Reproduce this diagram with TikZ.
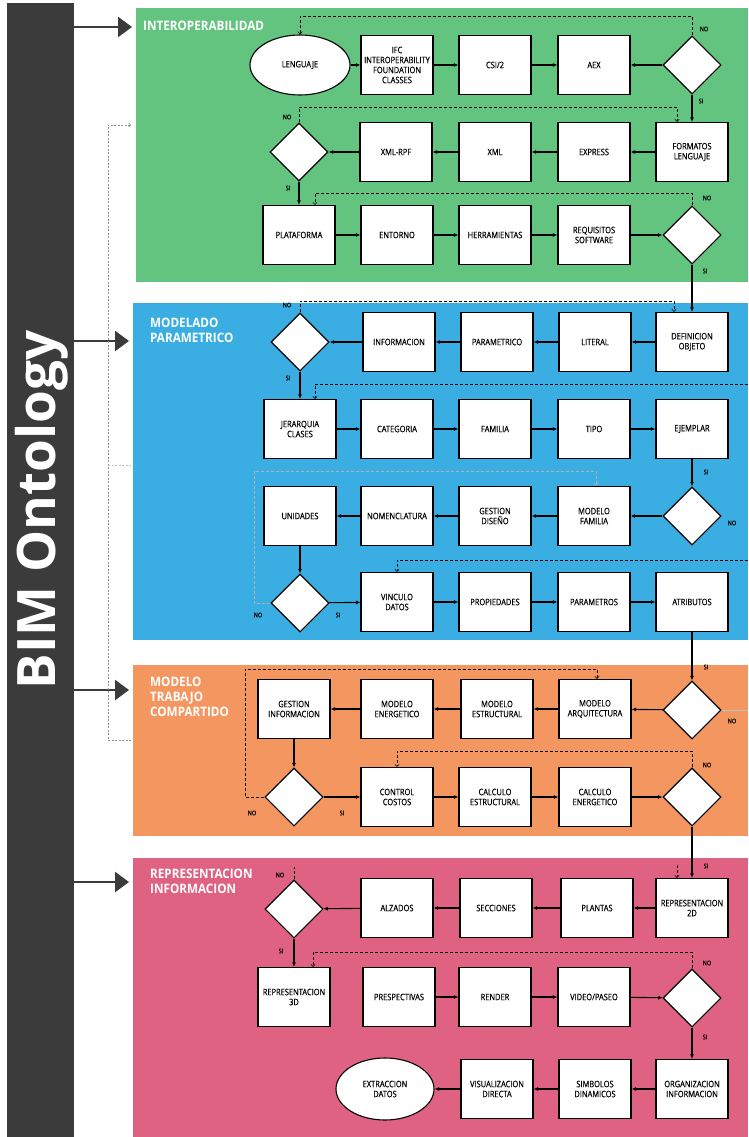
\documentclass[tikz,border=0pt]{standalone}
\usepackage{fontspec}
\setmainfont{Open Sans}
\newfontfamily\narrowfont{Open Sans}[FakeStretch=0.84, FakeBold=0.4]
\newfontfamily\titlefont{Open Sans}[FakeStretch=0.9]
\usetikzlibrary{positioning,arrows.meta,shapes.geometric}

\definecolor{barcol}{HTML}{3B3B3B}
\definecolor{interop}{HTML}{62C47F}
\definecolor{param}{HTML}{3AAEE2}
\definecolor{shared}{HTML}{F39660}
\definecolor{present}{HTML}{E06282}

\tikzset{
  panel/.style={anchor=north west, inner sep=0pt, outer sep=0pt},
  stage/.style={draw, line width=1.1pt, fill=white, minimum width=72pt, minimum height=59pt,
    inner sep=1pt, align=center, font=\narrowfont\fontsize{8.9}{10}\selectfont},
  choice/.style={diamond, draw, fill=white, line width=1.1pt, minimum width=58pt, minimum height=58pt, inner sep=0pt},
  endpoint/.style={ellipse, draw, fill=white, line width=1.1pt, minimum width=100pt, minimum height=60pt,
    align=center, font=\narrowfont\fontsize{8.9}{10}\selectfont},
  flow/.style={line width=1.1pt, -{Latex[length=4.5pt,width=4pt]}},
  loopback/.style={line width=0.5pt, dash pattern=on 3pt off 2pt, -{Straight Barb[length=2.5pt,width=4.5pt]}},
  faintloop/.style={loopback, draw=black!30},
  sideloop/.style={line width=0.5pt, draw=black!45, dash pattern=on 2pt off 1.5pt},
  tag/.style={inner sep=0pt, font=\narrowfont\fontsize{6.5}{7}\selectfont},
  heading/.style={anchor=north west, align=left, inner sep=0pt, text=white,
    font=\titlefont\bfseries\fontsize{13}{15}\selectfont},
  feedarrow/.style={draw=barcol, line width=2.4pt, -{Triangle[length=14pt,width=20pt]}}
}

\begin{document}
\begin{tikzpicture}[x=1pt, y=-1pt]
\useasboundingbox (0,0) rectangle (748,1137);

% side bar
\node[panel, fill=barcol, minimum width=67pt, minimum height=1134pt] (bar) at (7,3) {};
\node[rotate=90, text=white, font=\bfseries\fontsize{53}{53}\selectfont] (barlabel) at (42,510) {BIM Ontology};

% colour bands
\node[panel, fill=interop, minimum width=612pt, minimum height=274pt] (interopband) at (136,8) {};
\node[panel, fill=param, minimum width=615pt, minimum height=337pt] (paramband) at (133,303) {};
\node[panel, fill=shared, minimum width=615pt, minimum height=171pt] (sharedband) at (133,665) {};
\node[panel, fill=present, minimum width=615pt, minimum height=279pt] (presentband) at (133,858) {};

\node[heading] (interoptitle) at (143,21) {INTEROPERABILIDAD};
\node[heading] (paramtitle) at (150,318) {MODELADO\\PARAMETRICO};
\node[heading] (sharedtitle) at (150,677) {MODELO\\TRABAJO\\COMPARTIDO};
\node[heading] (presenttitle) at (150,869) {REPRESENTACION\\INFORMACION};

\foreach \blk/\y in {interopband/27, paramband/341, sharedband/690, presentband/882} {
  \coordinate (feedpt) at (0,\y);
  \draw[feedarrow] (bar.east |- feedpt) -- ([xshift=-4pt]\blk.west |- feedpt);
}

% interoperabilidad
\node[endpoint] (lenguaje) at (300,65) {LENGUAJE};
\node[stage] (ifc) at (397,65) {IFC\\INTEROPERABILITY\\FOUNDATION\\CLASSES};
\node[stage] (csi) at (495,65) {CSI/2};
\node[stage] (aex) at (594,65) {AEX};
\node[choice] (q1) at (692,65) {};

\node[stage] (formatos) at (692,152) {FORMATOS\\LENGUAJE};
\node[stage] (express) at (594,152) {EXPRESS};
\node[stage] (xml) at (495,152) {XML};
\node[stage] (xmlrpf) at (396,152) {XML-RPF};
\node[choice] (q2) at (299,152) {};

\node[stage] (plataforma) at (299,235) {PLATAFORMA};
\node[stage] (entorno) at (397,235) {ENTORNO};
\node[stage] (herramientas) at (495,235) {HERRAMIENTAS};
\node[stage] (requisitos) at (594,235) {REQUISITOS\\SOFTWARE};
\node[choice] (q3) at (692,235) {};

% modelado parametrico
\node[stage] (definicion) at (692,342) {DEFINICION\\OBJETO};
\node[stage] (literal) at (595,342) {LITERAL};
\node[stage] (parametrico) at (497,342) {PARAMETRICO};
\node[stage] (informacion) at (399,342) {INFORMACION};
\node[choice] (q4) at (300,342) {};

\node[stage] (jerarquia) at (300,429) {JERARQUIA\\CLASES};
\node[stage] (categoria) at (397,429) {CATEGORIA};
\node[stage] (familia) at (495,429) {FAMILIA};
\node[stage] (tipo) at (594,429) {TIPO};
\node[stage] (ejemplar) at (692,429) {EJEMPLAR};

\node[choice] (q5) at (692,516) {};
\node[stage] (modelofam) at (594,516) {MODELO\\FAMILIA};
\node[stage] (gestiondis) at (495,516) {GESTION\\DISEÑO};
\node[stage] (nomenclatura) at (397,516) {NOMENCLATURA};
\node[stage] (unidades) at (300,516) {UNIDADES};

\node[choice] (q6) at (300,603) {};
\node[stage] (vinculo) at (397,602) {VINCULO\\DATOS};
\node[stage] (propiedades) at (495,602) {PROPIEDADES};
\node[stage] (parametros) at (594,602) {PARAMETROS};
\node[stage] (atributos) at (692,602) {ATRIBUTOS};

% modelo trabajo compartido
\node[choice] (q7) at (692,710) {};
\node[stage] (arquitectura) at (595,709) {MODELO\\ARQUITECTURA};
\node[stage] (estructural) at (497,709) {MODELO\\ESTRUCTURAL};
\node[stage] (energetico) at (397,709) {MODELO\\ENERGETICO};
\node[stage] (gestioninf) at (294,709) {GESTION\\INFORMACION};

\node[choice] (q8) at (294,797) {};
\node[stage] (costos) at (397,797) {CONTROL\\COSTOS};
\node[stage] (calcest) at (495,797) {CALCULO\\ESTRUCTURAL};
\node[stage] (calcener) at (595,797) {CALCULO\\ENERGETICO};
\node[choice] (q9) at (692,797) {};

% representacion informacion
\node[stage] (rep2d) at (692,908) {REPRESENTACION\\2D};
\node[stage] (plantas) at (597,908) {PLANTAS};
\node[stage] (secciones) at (496,908) {SECCIONES};
\node[stage] (alzados) at (397,908) {ALZADOS};
\node[choice] (q10) at (294,909) {};

\node[stage] (rep3d) at (294,997) {REPRESENTACION\\3D};
\node[stage] (prespectivas) at (399,997) {PRESPECTIVAS};
\node[stage] (render) at (495,997) {RENDER};
\node[stage] (video) at (594,997) {VIDEO/PASEO};
\node[choice] (q11) at (692,998) {};

\node[stage] (organizacion) at (692,1089) {ORGANIZACION\\INFORMACION};
\node[stage] (simbolos) at (595,1089) {SIMBOLOS\\DINAMICOS};
\node[stage] (visualizacion) at (497,1089) {VISUALIZACION\\DIRECTA};
\node[endpoint, minimum width=98pt, minimum height=62pt] (extraccion) at (385,1089) {EXTRACCION\\DATOS};

% main flow
\foreach \a/\b in {lenguaje/ifc, ifc/csi, csi/aex, q1/aex, q1/formatos,
    formatos/express, express/xml, xml/xmlrpf, xmlrpf/q2, q2/plataforma,
    plataforma/entorno, entorno/herramientas, herramientas/requisitos, requisitos/q3, q3/definicion,
    definicion/literal, literal/parametrico, parametrico/informacion, informacion/q4, q4/jerarquia,
    jerarquia/categoria, categoria/familia, familia/tipo, tipo/ejemplar, ejemplar/q5,
    q5/modelofam, modelofam/gestiondis, gestiondis/nomenclatura, nomenclatura/unidades, unidades/q6,
    q6/vinculo, vinculo/propiedades, propiedades/parametros, parametros/atributos, atributos/q7,
    q7/arquitectura, arquitectura/estructural, estructural/energetico, energetico/gestioninf, gestioninf/q8,
    q8/costos, costos/calcest, calcest/calcener, calcener/q9, q9/rep2d,
    rep2d/plantas, plantas/secciones, secciones/alzados, alzados/q10, q10/rep3d,
    prespectivas/render, render/video, video/q11, q11/organizacion,
    organizacion/simbolos, simbolos/visualizacion, visualizacion/extraccion}
  \draw[flow] (\a) -- (\b);

% NO loops
\draw[loopback] (q1.north) -- ++(0,-19) -| (lenguaje.north);
\draw[loopback] (q2.north) -- ++(0,-15) -| ([xshift=-15pt]formatos.north);
\draw[loopback] (q3.north) -- ++(0,-12) -| ([xshift=16pt]plataforma.north);
\draw[loopback] (q4.north) -- ++(0,-11) -| ([xshift=-18pt]definicion.north);
\coordinate (edgefive) at (748,384);
\draw[loopback] (edgefive) -| ([xshift=15pt]jerarquia.north);
\draw[faintloop] (q6.west) -- ++(-16,0) |- ([xshift=2pt,yshift=15pt]modelofam.north) -- ([xshift=2pt]modelofam.north);
\coordinate (edgeseven) at (748,560);
\draw[loopback] (edgeseven) -| (vinculo.north);
\coordinate (edgeq7) at (748,710);
\draw[line width=0.4pt, draw=black!25] (q7.east) -- (edgeq7);
\draw[loopback] (q8.west) -- ++(-19,0) |- ([xshift=2pt,yshift=10pt]arquitectura.north) -- ([xshift=2pt]arquitectura.north);
\draw[loopback] (q9.north) -- ++(0,-16) -| (costos.north);
\draw[loopback, -] (q10.north) -- ++(0,-12);
\draw[loopback] ([xshift=-15pt,yshift=13pt]rep2d.north) -- ([xshift=-15pt]rep2d.north);
\draw[loopback] (q11.north) -- ++(0,-16) -| ([xshift=19pt]rep3d.north);

% return line on the left
\coordinate (sidetop) at (131,125);
\coordinate (sidemid) at (131,465);
\coordinate (sidebottom) at (131,740);
\draw[sideloop, -{Straight Barb[length=2pt,width=4pt]}] (sidebottom) -- ++(-23,0) |- (sidetop);
\draw[sideloop, draw=black!25] (sidemid) -- ++(-23,0);

% SI / NO labels
\node[tag] (q1no) at (704,29) {NO};
\node[tag] (q1si) at (701,101) {SI};
\node[tag] (q2no) at (287,117) {NO};
\node[tag] (q2si) at (288,188) {SI};
\node[tag] (q3no) at (707,198) {NO};
\node[tag] (q3si) at (705,271) {SI};
\node[tag] (q4no) at (287,305) {NO};
\node[tag] (q4si) at (288,378) {SI};
\node[tag] (q5si) at (706,472) {SI};
\node[tag] (q5no) at (732,523) {NO};
\node[tag] (q6no) at (258,615) {NO};
\node[tag] (q6si) at (338,615) {SI};
\node[tag] (q7si) at (706,667) {SI};
\node[tag] (q7no) at (732,721) {NO};
\node[tag] (q8no) at (252,813) {NO};
\node[tag] (q8si) at (342,813) {SI};
\node[tag] (q9no) at (707,765) {NO};
\node[tag] (q9si) at (706,866) {SI};
\node[tag] (q10no) at (280,875) {NO};
\node[tag] (q10si) at (281,951) {SI};
\node[tag] (q11no) at (707,963) {NO};
\node[tag] (q11si) at (705,1037) {SI};
\end{tikzpicture}
\end{document}
